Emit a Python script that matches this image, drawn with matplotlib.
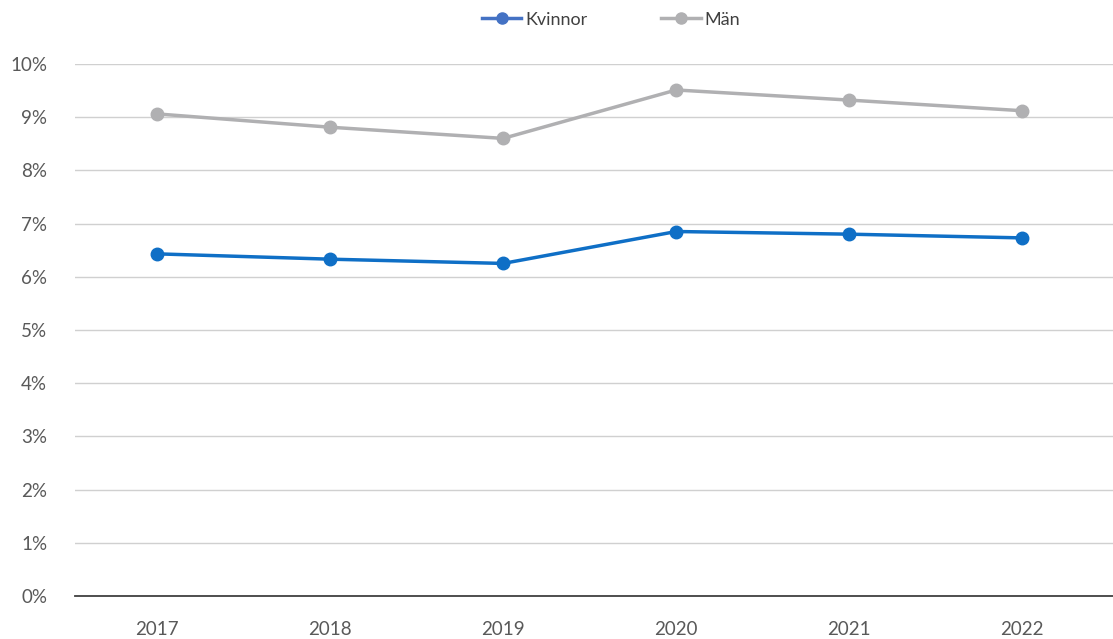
import matplotlib
matplotlib.use("Agg")
import matplotlib.pyplot as plt
from matplotlib.lines import Line2D
from matplotlib.ticker import PercentFormatter

years = ["2017", "2018", "2019", "2020", "2021", "2022"]
kvinnor = [6.43, 6.33, 6.25, 6.85, 6.80, 6.73]
man = [9.06, 8.81, 8.60, 9.51, 9.32, 9.12]

plt.rcParams['font.family'] = ['Lato', 'DejaVu Sans']

blue = '#0F6FC6'
gray = '#B0B0B2'

fig = plt.figure(figsize=(11.13, 6.39), dpi=100)
ax = fig.add_axes([0.0674, 0.0673, 0.9326, 0.8327])

x = range(len(years))
ax.plot(x, man, color=gray, lw=2.5, marker='o', ms=9, zorder=3)
ax.plot(x, kvinnor, color=blue, lw=2.5, marker='o', ms=9, zorder=3)

ax.set_xlim(-0.475, len(years) - 0.475)
ax.set_ylim(0, 10)
ax.set_yticks(range(0, 11))
ax.yaxis.set_major_formatter(PercentFormatter(decimals=0))
ax.set_xticks(list(x))
ax.set_xticklabels(years)

ax.grid(axis='y', color='#D0D0D0', lw=1)
ax.set_axisbelow(True)
for s in ['top', 'right', 'left']:
    ax.spines[s].set_visible(False)
ax.spines['bottom'].set_color('#404040')
ax.spines['bottom'].set_linewidth(1.3)
ax.tick_params(axis='both', length=0, labelsize=13.5, labelcolor='#595959')
ax.tick_params(axis='y', pad=20)
ax.tick_params(axis='x', pad=18)

handles = [Line2D([0], [0], color='#4472C4', lw=2.5, marker='o', ms=8),
           Line2D([0], [0], color=gray, lw=2.5, marker='o', ms=8)]
fig.legend(handles, ['Kvinnor', 'Män'], loc='upper center', bbox_to_anchor=(0.549, 1.007),
           ncol=2, frameon=False, fontsize=13, handlelength=2.2, handletextpad=0.2,
           columnspacing=4.1, labelcolor='#404040')

fig.savefig('out.png', dpi=100)
